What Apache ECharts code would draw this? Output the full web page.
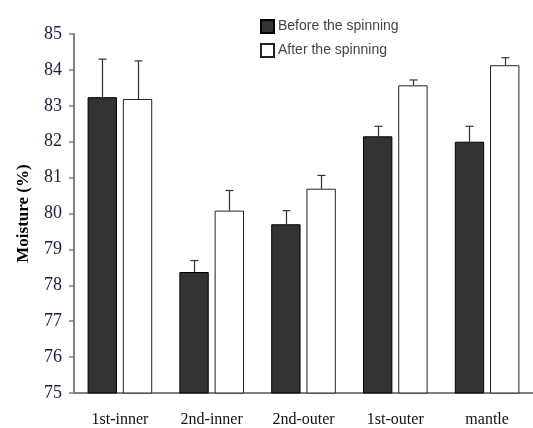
<!DOCTYPE html>
<html>
<head>
<meta charset="utf-8">
<script src="https://cdn.jsdelivr.net/npm/echarts@6/dist/echarts.min.js"></script>
<style>
  html, body { margin: 0; padding: 0; background: #fff; }
  #chart { width: 533px; height: 428px; }
</style>
</head>
<body>
<div id="chart"></div>
<script>
const categories = ['1st-inner', '2nd-inner', '2nd-outer', '1st-outer', 'mantle']
const beforeValues = [83.24, 78.37, 79.70, 82.15, 82.00]
const beforeErrors = [1.06, 0.32, 0.38, 0.28, 0.43]
const afterValues = [83.19, 80.08, 80.69, 83.57, 84.13]
const afterErrors = [1.06, 0.56, 0.37, 0.15, 0.21]
const yTicks = { min: 75, max: 85, interval: 1 }

const barWidthPct = 0.32
const barGapPct = 0.2

function errorSeries(values, errors, side) {
  return {
    type: 'custom',
    silent: true,
    z: 1,
    data: values.map((v, i) => [i, v, v + errors[i]]),
    renderItem: (params, api) => {
      const band = api.size([1, 0])[0]
      const shift = side * band * (barWidthPct + barWidthPct * barGapPct) / 2
      const base = api.coord([api.value(0), api.value(1)])
      const top = api.coord([api.value(0), api.value(2)])
      const x = Math.round(base[0] + shift) + 0.5
      const cap = 4
      const style = { stroke: '#333', lineWidth: 1.2 }
      return {
        type: 'group',
        children: [
          { type: 'line', shape: { x1: x, y1: base[1], x2: x, y2: top[1] }, style },
          { type: 'line', shape: { x1: x - cap, y1: top[1], x2: x + cap, y2: top[1] }, style },
        ],
      }
    },
  }
}

const chart = echarts.init(document.getElementById('chart'))
chart.setOption({
  animation: false,
  grid: { left: 74, top: 34, width: 465, height: 359 },
  legend: {
    orient: 'vertical',
    left: 255,
    top: 14,
    itemWidth: 13,
    itemHeight: 13,
    itemGap: 9,
    icon: 'rect',
    textStyle: { fontFamily: 'Liberation Sans', fontSize: 14, color: '#444', padding: [0, 0, 0, -1] },
    data: ['Before the spinning', 'After the spinning'],
  },
  xAxis: {
    type: 'category',
    data: categories,
    axisLine: { lineStyle: { color: '#808080', width: 2 } },
    axisTick: { length: 6, lineStyle: { color: '#808080', width: 1.5 } },
    axisLabel: { fontFamily: 'Liberation Serif', fontSize: 16, color: '#111', margin: 19 },
  },
  yAxis: {
    type: 'value',
    min: yTicks.min,
    max: yTicks.max,
    interval: yTicks.interval,
    name: 'Moisture (%)',
    nameLocation: 'middle',
    nameGap: 42,
    nameTextStyle: { fontFamily: 'Liberation Serif', fontSize: 17, fontWeight: 'bold', color: '#000' },
    axisLine: { show: true, lineStyle: { color: '#808080', width: 2 } },
    axisTick: { show: true, length: 5, lineStyle: { color: '#808080', width: 1.5 } },
    axisLabel: { fontFamily: 'Liberation Serif', fontSize: 18, color: '#1c1c3c', margin: 12 },
    splitLine: { show: false },
  },
  series: [
    {
      name: 'Before the spinning',
      type: 'bar',
      data: beforeValues,
      barWidth: barWidthPct * 100 + '%',
      barGap: barGapPct * 100 + '%',
      itemStyle: { color: '#333333', borderColor: '#000', borderWidth: 1 },
    },
    {
      name: 'After the spinning',
      type: 'bar',
      data: afterValues,
      barWidth: barWidthPct * 100 + '%',
      barGap: barGapPct * 100 + '%',
      itemStyle: { color: '#ffffff', borderColor: '#222', borderWidth: 1 },
    },
    errorSeries(beforeValues, beforeErrors, -1),
    errorSeries(afterValues, afterErrors, 1),
  ],
})
</script>
</body>
</html>
